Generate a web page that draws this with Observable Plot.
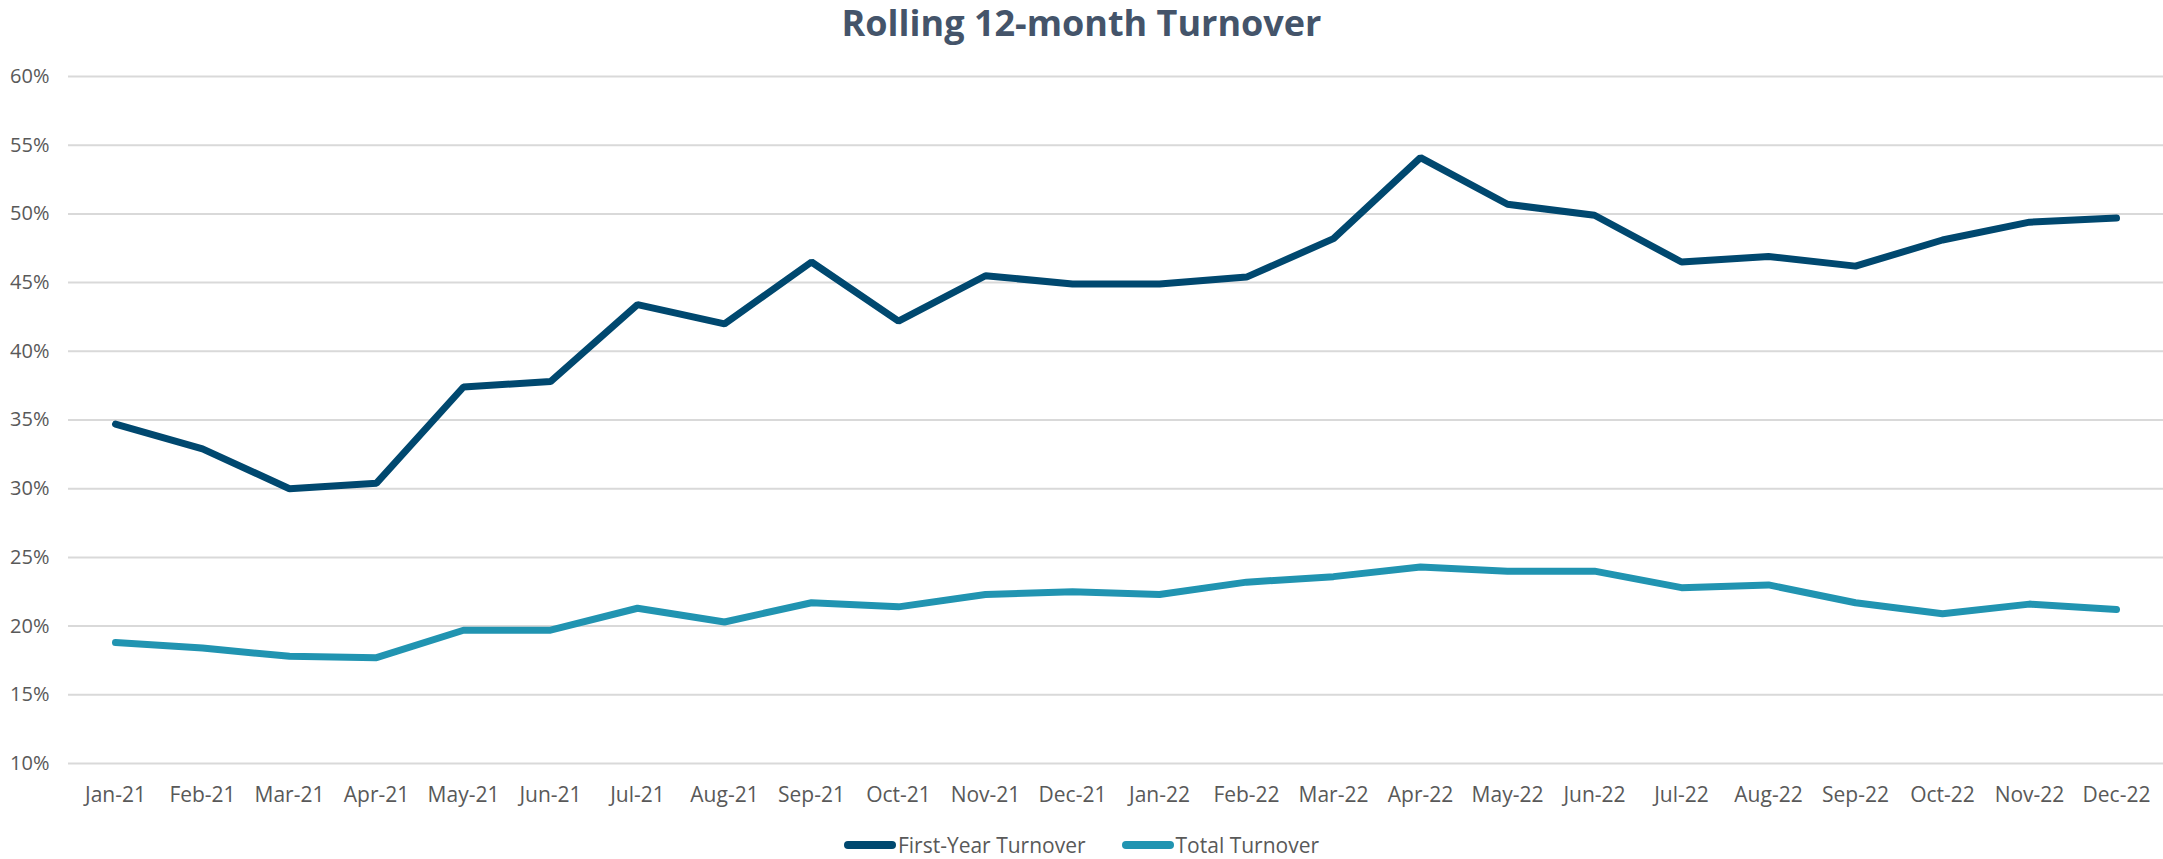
<!DOCTYPE html>
<html>
<head>
<meta charset="utf-8">
<script src="https://cdn.jsdelivr.net/npm/d3@7"></script>
<script src="https://cdn.jsdelivr.net/npm/@observablehq/plot@0.6"></script>
<style>
  html, body { margin: 0; padding: 0; background: #fff; overflow: hidden; }
  body { width: 2163px; height: 859px; font-family: "Open Sans", sans-serif; }
  #title { height: 46px; line-height: 46px; text-align: center; font-size: 36px; font-weight: 700; color: #44546A; }
  #legend { margin-top: 16px; height: 24px; line-height: 24px; display: flex; justify-content: center; align-items: center; font-size: 21px; color: #595959; }
  .item { display: flex; align-items: center; margin: 0 18px; }
  .sw { width: 52px; height: 8px; border-radius: 4px; margin-right: 2px; }
</style>
</head>
<body>
<div id="title">Rolling 12-month Turnover</div>
<div id="chart"></div>
<div id="legend"></div>
<script>
const months = ["Jan-21","Feb-21","Mar-21","Apr-21","May-21","Jun-21","Jul-21","Aug-21","Sep-21","Oct-21","Nov-21","Dec-21",
                "Jan-22","Feb-22","Mar-22","Apr-22","May-22","Jun-22","Jul-22","Aug-22","Sep-22","Oct-22","Nov-22","Dec-22"];
const firstYear = [34.7,32.9,30.0,30.4,37.4,37.8,43.4,42.0,46.5,42.2,45.5,44.9,
                   44.9,45.4,48.2,54.1,50.7,49.9,46.5,46.9,46.2,48.1,49.4,49.7];
const total = [18.8,18.4,17.8,17.7,19.7,19.7,21.3,20.3,21.7,21.4,22.3,22.5,
               22.3,23.2,23.6,24.3,24.0,24.0,22.8,23.0,21.7,20.9,21.6,21.2];
const yTicks = [10,15,20,25,30,35,40,45,50,55,60];
const seriesNames = ["First-Year Turnover","Total Turnover"];
const seriesColors = ["#00486F","#2194B1"];

const data = [
  ...months.map((m,i) => ({month: m, value: firstYear[i], series: seriesNames[0]})),
  ...months.map((m,i) => ({month: m, value: total[i], series: seriesNames[1]}))
];

const chart = Plot.plot({
  width: 2163,
  height: 771,
  marginTop: 30,
  marginBottom: 54,
  marginLeft: 68,
  marginRight: 0,
  style: {fontFamily: "Open Sans, sans-serif", fontSize: "20px", color: "#595959", background: "#fff"},
  x: {type: "point", domain: months, padding: 0.5, label: null},
  y: {domain: [10, 60], label: null},
  color: {domain: seriesNames, range: seriesColors},
  marks: [
    Plot.gridY(yTicks, {stroke: "#d9d9d9", strokeOpacity: 1, strokeWidth: 2}),
    Plot.axisY(yTicks, {tickSize: 0, tickPadding: 19, tickFormat: d => d + "%", fontSize: 20, fill: "#595959"}),
    Plot.axisX(months, {tickSize: 0, tickPadding: 24, fontSize: 21, fill: "#595959"}),
    Plot.line(data, {x: "month", y: "value", z: "series", stroke: "series", strokeWidth: 7,
                     strokeLinejoin: "miter", strokeLinecap: "round"})
  ]
});
document.getElementById("chart").appendChild(chart);

const legend = document.getElementById("legend");
seriesNames.forEach((name, i) => {
  const it = document.createElement("div");
  it.className = "item";
  const sw = document.createElement("div");
  sw.className = "sw";
  sw.style.background = seriesColors[i];
  const tx = document.createElement("span");
  tx.textContent = name;
  it.appendChild(sw); it.appendChild(tx);
  legend.appendChild(it);
});
</script>
</body>
</html>
